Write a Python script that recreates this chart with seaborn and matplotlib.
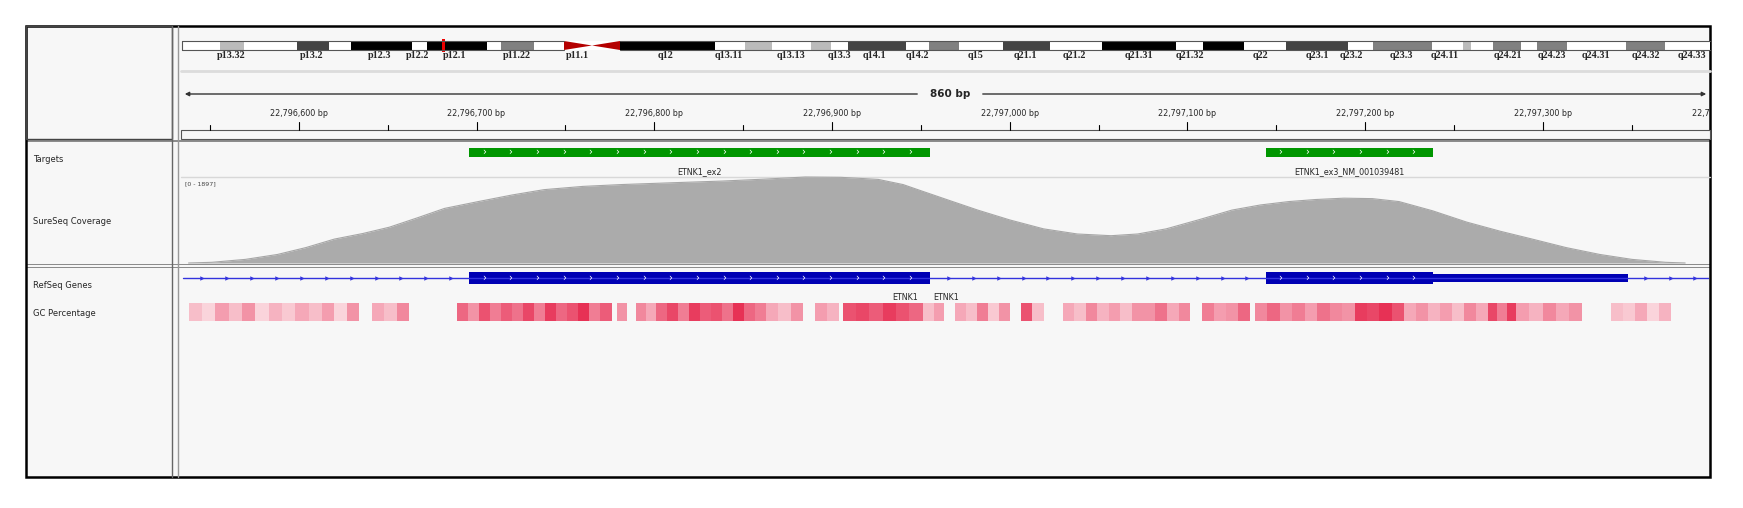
import numpy as np
import pandas as pd
import matplotlib
matplotlib.use("Agg")
import matplotlib.pyplot as plt
import seaborn as sns
from matplotlib.patches import Rectangle, Polygon

sns.set_style("white")
plt.rcParams['font.family'] = ['DejaVu Sans']

# ---------------- dados ----------------
START = 22796533.75
END = 22797393.4
ticks_major = [22796600, 22796700, 22796800, 22796900, 22797000, 22797100, 22797200, 22797300, 22797400]

# alvos / exons (bp)
targets_ini = [22796696, 22797144]
targets_fim = [22796955, 22797238]
targets_nome = ["ETNK1_ex2", "ETNK1_ex3_NM_001039481"]
utr_ini, utr_fim = 22797238, 22797348
genes_x = [22796941, 22796964]

# cobertura (bp, leituras)
cov_pos = [22796538, 22796551, 22796570, 22796588, 22796604, 22796620, 22796636, 22796651,
           22796667, 22796682, 22796701, 22796720, 22796738, 22796760, 22796782, 22796810,
           22796838, 22796862, 22796885, 22796905, 22796926, 22796940, 22796951, 22796966,
           22796982, 22797000, 22797019, 22797038, 22797057, 22797072, 22797088, 22797106,
           22797125, 22797141, 22797157, 22797172, 22797188, 22797204, 22797219, 22797238,
           22797257, 22797276, 22797294, 22797313, 22797332, 22797350, 22797369, 22797380]
cov_val = [0, 15, 80, 188, 340, 527, 650, 790, 1000, 1204, 1355, 1500, 1618, 1690, 1731,
           1770, 1807, 1850, 1897, 1890, 1844, 1730, 1581, 1380, 1167, 950, 753, 640, 602,
           640, 753, 950, 1167, 1280, 1355, 1400, 1430, 1420, 1355, 1150, 903, 700, 527, 340,
           188, 80, 15, 0]
cov_max = 1897

# GC (blocos: inicio bp, fim bp, niveis)
gc_ini = [22796538, 22796613, 22796689, 22796726, 22796779, 22796801, 22796863, 22796906,
          22796951, 22796994, 22797030, 22797075, 22797138, 22797194, 22797222, 22797269,
          22797285, 22797338]
gc_fim = [22796613, 22796669, 22796726, 22796776, 22796801, 22796863, 22796904, 22796951,
          22796994, 22797019, 22797075, 22797135, 22797194, 22797222, 22797269, 22797285,
          22797322, 22797372]
gc_niveis = [
    [.3, .2, .45, .3, .5, .2, .35, .25, .4, .3],
    [.45, .2, .5, .0, .4, .3, .55, .0],
    [.7, .5, .8, .6, .75, .65],
    [.85, .6, .9, .7, .8, .95, .6, .75],
    [.5, .0, .55, .4],
    [.7, .85, .6, .9, .75, .8, .65, .95, .7, .6],
    [.4, .3, .5, .0, .45, .35],
    [.8, .85, .75, .9, .8, .7],
    [.3, .45, .0, .4, .3, .6, .25],
    [.5, .0, .8, .3],
    [.4, .3, .55, .35, .45, .3, .5],
    [.5, .65, .4, .55, .0, .6, .45, .5, .7],
    [.55, .7, .5, .6, .45, .65, .55, .5],
    [.9, .85, .95, .8],
    [.4, .5, .35, .45, .3, .55, .4],
    [.85, .6, .9],
    [.45, .35, .55, .4, .5],
    [.3, .25, .4, .2, .35],
]

# ideograma chr12 (pixels na figura)
band_ini = [182, 220, 244, 297, 329, 351, 412, 427, 487, 501, 534, 620, 715, 745, 772, 811, 831,
            848, 906, 929, 959, 1003, 1050, 1102, 1176, 1203, 1244, 1286, 1348, 1373, 1432,
            1463, 1471, 1493, 1521, 1537, 1567, 1626, 1665]
band_fim = band_ini[1:] + [1710]
band_cor = ["w", "#bbbbbb", "w", "#444444", "w", "k", "w", "k", "w", "#808080", "w", "k", "w",
            "#bbbbbb", "w", "#bbbbbb", "w", "#444444", "w", "#808080", "w", "#444444", "w", "k",
            "w", "k", "w", "#444444", "w", "#808080", "w", "#bbbbbb", "w", "#808080", "w",
            "#808080", "w", "#808080", "w"]
band_nome = ["p13.32", "p13.2", "p12.3", "p12.2", "p12.1", "p11.22", "p11.1", "q12", "q13.11",
             "q13.13", "q13.3", "q14.1", "q14.2", "q15", "q21.1", "q21.2", "q21.31", "q21.32",
             "q22", "q23.1", "q23.2", "q23.3", "q24.11", "q24.21", "q24.23", "q24.31", "q24.32",
             "q24.33"]
band_nome_x = [231, 312, 380, 418, 455, 517, 577, 666, 729, 791, 839, 874, 917, 976, 1025, 1074,
               1139, 1190, 1260, 1317, 1351, 1401, 1445, 1508, 1552, 1596, 1646, 1692]

# ---------------- figura ----------------
W, H = 1743, 508
fig = plt.figure(figsize=(W / 100, H / 100), dpi=100)
bg = fig.add_axes([0, 0, 1, 1])
bg.set_xlim(0, W)
bg.set_ylim(H, 0)
bg.axis("off")

painel = "#f7f7f7"
bg.add_patch(Rectangle((26, 26), 1684, 451, fc=painel, ec="none"))
# separadores horizontais
for y0, h in [(139.5, 2.5), (264, 1.2), (267, 1.2)]:
    bg.add_patch(Rectangle((26, y0), 1684, h, fc="#8c8c8c", ec="none"))
bg.plot([181, 1710], [71, 71], color="#dcdcdc", lw=2)
bg.plot([181, 1710], [177, 177], color="#d8d8d8", lw=1)
# divisores verticais
bg.plot([172, 172], [26, 477], color="#666666", lw=1)
bg.plot([178, 178], [26, 477], color="#999999", lw=1)
bg.add_patch(Rectangle((26, 26), 1684, 451, fc="none", ec="k", lw=1.8))
bg.add_patch(Rectangle((26, 26), 146, 113, fc="none", ec="#444444", lw=1))

# ideograma
for a, b, c in zip(band_ini, band_fim, band_cor):
    if 564 <= a < 620:
        continue
    bg.add_patch(Rectangle((a, 41), b - a, 9, fc=c, ec="none"))
bg.plot([182, 564], [41, 41], color="#555555", lw=0.8)
bg.plot([182, 564], [50, 50], color="#555555", lw=0.8)
bg.plot([620, 1710], [41, 41], color="#555555", lw=0.8)
bg.plot([620, 1710], [50, 50], color="#555555", lw=0.8)
bg.plot([182, 182], [41, 50], color="#555555", lw=0.8)
bg.add_patch(Polygon([[564, 41], [564, 50], [592, 45.5]], fc="#b40000", ec="none"))
bg.add_patch(Polygon([[620, 41], [620, 50], [592, 45.5]], fc="#b40000", ec="none"))
bg.add_patch(Rectangle((442, 39), 3.5, 13, fc="#ee0000", ec="none"))
for nome, x in zip(band_nome, band_nome_x):
    bg.text(x, 56, nome, ha="center", va="center", fontsize=7.3, fontweight="bold",
            family="Liberation Serif")

# régua
bg.annotate("", xy=(182, 94), xytext=(920, 94),
            arrowprops=dict(arrowstyle="-|>", color="#333333", lw=1, mutation_scale=6))
bg.annotate("", xy=(1709, 94), xytext=(980, 94),
            arrowprops=dict(arrowstyle="-|>", color="#333333", lw=1, mutation_scale=6))
bg.text(950, 94, "860 bp", ha="center", va="center", fontsize=7.5, fontweight="bold",
        backgroundcolor=painel)
bg.add_patch(Rectangle((181, 130), 1529, 9, fc=painel, ec="#555555", lw=0.8))

# rótulos das trilhas
for txt, y in [("Targets", 160), ("SureSeq Coverage", 222), ("RefSeq Genes", 286),
               ("GC Percentage", 313)]:
    bg.text(33, y, txt, ha="left", va="center", fontsize=6)

# eixo de dados (x em bp, y em pixels)
ax = fig.add_axes([181 / W, 1 - 477 / H, (1709 - 181) / W, (477 - 26) / H])
ax.set_xlim(START, END)
ax.set_ylim(477, 26)
ax.patch.set_alpha(0)

for t in ticks_major:
    ax.plot([t, t], [122, 130], color="k", lw=0.8)
    ax.plot([t - 50, t - 50], [125, 130], color="k", lw=0.8)
    ax.text(t, 114, f"{t:,} bp", ha="center", va="center", fontsize=5.8, clip_on=True)

# alvos
for a, b, n in zip(targets_ini, targets_fim, targets_nome):
    ax.add_patch(Rectangle((a, 147.5), b - a, 9, fc="#009600", ec="none"))
    for c in np.arange(a + 8, b - 4, 15):
        ax.text(c, 152, "›", color="white", fontsize=7, ha="center", va="center")
    ax.text((a + b) / 2, 172, n, ha="center", va="center", fontsize=5.8)

# cobertura
df = pd.DataFrame({"pos": cov_pos, "cov": cov_val})
df["y"] = 263 - df["cov"] * 86 / cov_max
ax.fill_between(df["pos"], df["y"], 263, color="#ababab", lw=0)
sns.lineplot(data=df, x="pos", y="y", ax=ax, color="#a6a6a6", lw=0.8)
ax.axis("off")
ax.text(START + 2, 184, f"[0 - {cov_max}]", fontsize=4.5, ha="left", va="center",
        color="#444444")

# genes RefSeq
azul = "#0000b4"
ax.plot([START + 1, END], [278, 278], color="#3333dd", lw=1)
for c in np.arange(START + 12, END, 14):
    dentro = (targets_ini[0] - 3 < c < targets_fim[0] + 3) or (targets_ini[1] - 3 < c < utr_fim + 3)
    if not dentro:
        ax.plot(c, 278, marker=">", ms=3.2, color="#3333dd", mew=0)
for a, b in zip(targets_ini, targets_fim):
    ax.add_patch(Rectangle((a, 272), b - a, 12, fc=azul, ec="none"))
    for c in np.arange(a + 8, b - 4, 15):
        ax.text(c, 278, "›", color="white", fontsize=7, ha="center", va="center")
ax.add_patch(Rectangle((utr_ini, 274), utr_fim - utr_ini, 8, fc=azul, ec="none"))
for gx in genes_x:
    ax.text(gx, 297, "ETNK1", fontsize=5.8, ha="center", va="center")

# GC
for a, b, nv in zip(gc_ini, gc_fim, gc_niveis):
    bordas = np.linspace(a, b, len(nv) + 1)
    for i, v in enumerate(nv):
        if v <= 0:
            continue
        cor = (1 - v * 0.1, 1 - v * 0.85, 1 - v * 0.7)
        ax.add_patch(Rectangle((bordas[i], 303), bordas[i + 1] - bordas[i], 18,
                               fc=cor, ec="none"))

fig.savefig("out.png", dpi=100, facecolor="white")
